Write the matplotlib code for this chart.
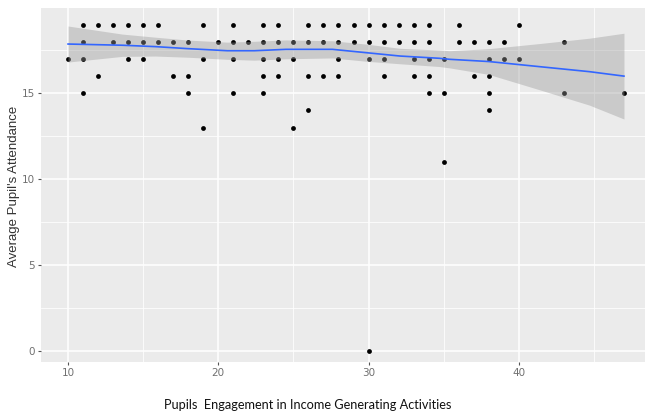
import matplotlib
matplotlib.use("Agg")
import matplotlib.pyplot as plt
import numpy as np

# points: engagement (x) vs average attendance (y)
engagement = [10,
              11, 11, 11, 11,
              12, 12,
              13, 13,
              14, 14, 14,
              15, 15, 15,
              16, 16,
              17, 17,
              18, 18, 18,
              19, 19, 19,
              20,
              21, 21, 21, 21,
              22,
              23, 23, 23, 23, 23,
              24, 24, 24, 24,
              25, 25, 25,
              26, 26, 26, 26,
              27, 27, 27,
              28, 28, 28, 28,
              29, 29,
              30, 30, 30, 30,
              31, 31, 31, 31,
              32, 32,
              33, 33, 33, 33,
              34, 34, 34, 34, 34,
              35, 35, 35,
              36, 36,
              37, 37,
              38, 38, 38, 38, 38,
              39, 39,
              40, 40,
              43, 43,
              47]
attendance = [17,
              19, 18, 17, 15,
              19, 16,
              19, 18,
              19, 18, 17,
              19, 18, 17,
              19, 18,
              18, 16,
              18, 16, 15,
              19, 17, 13,
              18,
              19, 18, 17, 15,
              18,
              19, 18, 17, 16, 15,
              19, 18, 17, 16,
              18, 17, 13,
              19, 18, 16, 14,
              19, 18, 16,
              19, 18, 17, 16,
              19, 18,
              19, 18, 17, 0,
              19, 18, 17, 16,
              19, 18,
              19, 18, 17, 16,
              19, 18, 17, 16, 15,
              17, 15, 11,
              19, 18,
              18, 16,
              18, 17, 16, 15, 14,
              18, 17,
              19, 17,
              18, 15,
              15]

# smoothed trend, with half width of the band
smooth_x = [10, 13.6, 15.8, 18, 20.6, 22.4, 24.5, 27.6, 29.8, 32.1, 34.7, 35.4, 38, 41.4, 44.7, 47]
smooth_y = [17.87, 17.80, 17.72, 17.60, 17.48, 17.48, 17.56, 17.56, 17.37, 17.17, 17.04, 16.98, 16.85, 16.55, 16.26, 16.0]
smooth_se = [1.05, 0.65, 0.55, 0.5, 0.5, 0.55, 0.55, 0.5, 0.5, 0.45, 0.48, 0.5, 0.75, 1.35, 1.95, 2.5]

x_ticks = [10, 20, 30, 40]
y_ticks = [0, 5, 10, 15]

fig = plt.figure(figsize=(6.45, 4.16), dpi=100)
ax = fig.add_axes([41 / 645, 54 / 416, 604 / 645, 354 / 416])
ax.set_facecolor("#EBEBEB")
for s in ax.spines.values():
    s.set_visible(False)

ax.set_xlim(8.2, 48.4)
ax.set_ylim(-0.66, 19.97)
ax.set_xticks(x_ticks)
ax.set_yticks(y_ticks)
ax.set_xticks([15, 25, 35, 45], minor=True)
ax.set_yticks([2.5, 7.5, 12.5, 17.5], minor=True)
ax.grid(which="major", color="white", linewidth=1.1)
ax.grid(which="minor", color="white", linewidth=0.55)
ax.set_axisbelow(True)
ax.tick_params(which="minor", length=0)
ax.tick_params(which="major", length=2.5, width=0.8, color="#555555",
               labelcolor="#707070", labelsize=7.5, pad=2)

ax.scatter(engagement, attendance, s=12, color="black", linewidths=0, zorder=2)

sx = np.array(smooth_x)
sy = np.array(smooth_y)
se = np.array(smooth_se)
ax.fill_between(sx, sy - se, sy + se, color="#999999", alpha=0.4, linewidth=0, zorder=3)
ax.plot(sx, sy, color="#3366FF", linewidth=1.2, zorder=4)

fig.text(14 / 645, 1 - 186 / 416, "Average Pupil's Attendance", rotation=90,
         ha="center", va="center", fontsize=9.5, color="#333333", family="Liberation Sans")
fig.text(308 / 645, 1 - 405 / 416, "Pupils  Engagement in Income Generating Activities",
         ha="center", va="center", fontsize=9.2, color="#111111", family="Lato")

fig.savefig("out.png", dpi=100)
